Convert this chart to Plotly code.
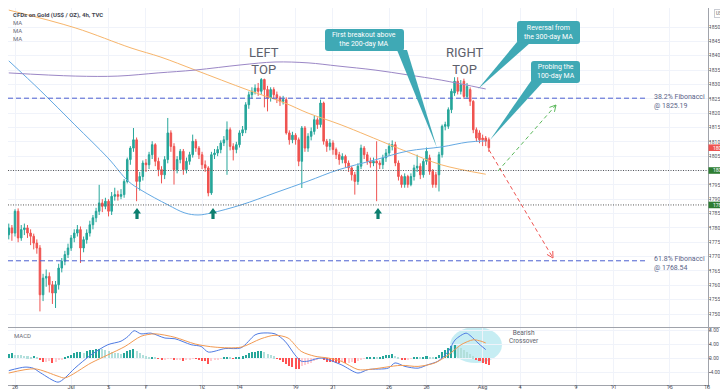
import math
import plotly.graph_objects as go

# ---------------- data ----------------
tick_bars = [2, 20, 32, 44, 62, 74, 92, 104, 122, 134, 152, 164, 182, 194, 212, 224]
tick_labels = ["28", "Jul", "5", "7", "12", "14", "19", "21", "26", "28", "Aug", "4", "9", "11", "16", "18"]

open_ = [1777.6, 1780.0, 1778.2, 1785.8, 1776.5, 1779.4, 1780.0, 1778.2, 1777.1, 1774.7,
         1773.0, 1756.7, 1762.5, 1763.1, 1760.2, 1757.3, 1760.2, 1766.0, 1768.4, 1770.7,
         1773.0, 1776.5, 1778.2, 1779.4, 1773.0, 1775.9, 1778.2, 1781.1, 1783.5, 1785.8,
         1788.7, 1787.5, 1789.3, 1785.8, 1791.0, 1791.6, 1791.0, 1791.6, 1796.2, 1803.8,
         1807.8, 1810.7, 1796.2, 1797.9, 1802.6, 1802.0, 1805.5, 1809.0, 1803.2, 1800.3,
         1798.5, 1803.8, 1813.1, 1808.4, 1800.3, 1803.8, 1806.7, 1800.3, 1803.2, 1805.5,
         1810.2, 1807.8, 1805.5, 1802.0, 1800.9, 1792.2, 1805.5, 1806.1, 1807.3, 1809.6,
         1810.7, 1814.2, 1808.4, 1807.3, 1809.0, 1813.1, 1814.2, 1822.9, 1826.4, 1827.6,
         1828.7, 1827.6, 1831.7, 1828.2, 1825.3, 1828.2, 1826.4, 1825.3, 1824.1, 1824.7,
         1813.1, 1810.7, 1812.3, 1810.7, 1803.2, 1814.8, 1807.8, 1811.9, 1813.6, 1817.7,
         1816.0, 1823.5, 1810.2, 1808.4, 1809.6, 1807.3, 1805.5, 1803.8, 1804.9, 1802.6,
         1800.9, 1798.5, 1796.2, 1801.5, 1807.8, 1805.5, 1803.2, 1802.6, 1803.2, 1802.6,
         1802.0, 1804.4, 1806.1, 1808.4, 1809.0, 1802.6, 1797.9, 1795.1, 1797.9, 1795.1,
         1797.9, 1800.9, 1801.5, 1798.5, 1803.2, 1804.4, 1799.7, 1798.5, 1798.5, 1805.5,
         1815.4, 1815.4, 1821.2, 1827.0, 1831.1, 1827.6, 1831.1, 1825.8, 1828.2, 1824.1,
         1814.2, 1813.1, 1811.3, 1811.3, 1810.7]
high = [1781.5, 1781.0, 1786.5, 1786.8, 1781.0, 1781.5, 1781.0, 1779.5, 1778.0, 1776.0,
        1774.0, 1764.0, 1765.5, 1764.5, 1761.5, 1761.5, 1767.5, 1769.5, 1772.0, 1774.5,
        1777.5, 1779.5, 1781.0, 1780.5, 1777.0, 1779.5, 1782.5, 1784.5, 1787.0, 1795.0,
        1790.0, 1790.5, 1790.0, 1792.5, 1794.0, 1793.0, 1793.5, 1797.0, 1804.5, 1808.5,
        1814.8, 1811.5, 1799.5, 1803.5, 1804.0, 1806.5, 1810.2, 1809.5, 1804.5, 1801.5,
        1805.0, 1818.3, 1814.0, 1809.5, 1805.0, 1807.5, 1807.5, 1804.5, 1806.5, 1812.5,
        1811.0, 1808.5, 1806.5, 1803.5, 1801.5, 1806.5, 1807.5, 1808.5, 1810.5, 1812.0,
        1817.1, 1815.0, 1809.5, 1810.0, 1814.0, 1815.5, 1823.8, 1827.5, 1829.0, 1830.0,
        1830.5, 1832.2, 1832.0, 1829.5, 1829.0, 1829.0, 1827.5, 1826.0, 1826.0, 1825.5,
        1814.0, 1813.5, 1813.0, 1811.5, 1815.5, 1815.5, 1813.0, 1815.0, 1819.0, 1818.5,
        1824.7, 1824.0, 1811.0, 1811.0, 1810.5, 1808.0, 1806.5, 1806.0, 1805.5, 1803.5,
        1801.5, 1799.5, 1802.5, 1809.0, 1808.5, 1806.5, 1804.5, 1804.5, 1810.2, 1803.5,
        1805.5, 1807.5, 1809.5, 1810.5, 1810.0, 1803.5, 1798.5, 1799.0, 1798.5, 1799.0,
        1802.0, 1805.5, 1802.5, 1804.0, 1808.0, 1805.5, 1800.5, 1799.5, 1806.5, 1816.0,
        1817.0, 1822.0, 1828.5, 1832.5, 1832.5, 1831.5, 1832.0, 1830.5, 1829.0, 1824.5,
        1815.0, 1814.0, 1812.5, 1812.0, 1811.5]
low = [1776.0, 1775.5, 1777.0, 1775.0, 1775.5, 1777.5, 1776.5, 1774.0, 1772.5, 1771.0,
       1750.9, 1754.5, 1759.5, 1757.5, 1753.5, 1752.1, 1758.5, 1764.5, 1767.0, 1769.5,
       1772.0, 1775.0, 1777.0, 1767.8, 1771.5, 1774.5, 1777.0, 1779.5, 1782.0, 1784.5,
       1785.5, 1786.5, 1784.0, 1784.5, 1789.5, 1789.5, 1790.0, 1790.5, 1795.5, 1802.0,
       1806.5, 1789.3, 1793.0, 1796.5, 1799.5, 1800.5, 1804.0, 1801.5, 1798.0, 1795.5,
       1797.0, 1802.5, 1806.5, 1795.1, 1799.0, 1802.5, 1798.5, 1799.0, 1802.0, 1804.5,
       1806.5, 1804.0, 1800.5, 1799.5, 1791.0, 1791.5, 1804.0, 1805.0, 1806.0, 1808.5,
       1798.5, 1807.0, 1803.5, 1806.0, 1808.0, 1812.0, 1813.0, 1821.5, 1825.0, 1826.5,
       1826.0, 1826.5, 1822.0, 1820.6, 1824.0, 1825.0, 1823.5, 1822.5, 1823.0, 1812.5,
       1809.0, 1809.5, 1809.0, 1801.5, 1793.9, 1806.5, 1806.5, 1810.5, 1812.5, 1814.5,
       1815.0, 1809.0, 1806.5, 1807.0, 1805.5, 1804.0, 1802.0, 1802.5, 1801.0, 1799.5,
       1796.5, 1791.6, 1795.0, 1800.5, 1804.0, 1802.0, 1801.0, 1801.5, 1789.3, 1800.5,
       1800.5, 1803.0, 1805.0, 1807.0, 1801.5, 1796.5, 1794.0, 1794.0, 1794.0, 1794.5,
       1796.5, 1799.5, 1797.0, 1797.5, 1802.0, 1798.5, 1794.0, 1794.0, 1792.7, 1804.5,
       1814.0, 1814.5, 1820.0, 1826.0, 1826.5, 1826.5, 1825.0, 1825.0, 1822.5, 1813.0,
       1810.0, 1809.5, 1808.5, 1808.5, 1806.5]
close = [1780.0, 1778.2, 1785.8, 1776.5, 1779.4, 1780.0, 1778.2, 1777.1, 1774.7, 1773.0,
         1756.7, 1762.5, 1763.1, 1760.2, 1757.3, 1760.2, 1766.0, 1768.4, 1770.7, 1773.0,
         1776.5, 1778.2, 1779.4, 1773.0, 1775.9, 1778.2, 1781.1, 1783.5, 1785.8, 1788.7,
         1787.5, 1789.3, 1785.8, 1791.0, 1791.6, 1791.0, 1791.6, 1796.2, 1803.8, 1807.8,
         1810.7, 1796.2, 1797.9, 1802.6, 1802.0, 1805.5, 1809.0, 1803.2, 1800.3, 1798.5,
         1803.8, 1813.1, 1808.4, 1800.3, 1803.8, 1806.7, 1800.3, 1803.2, 1805.5, 1810.2,
         1807.8, 1805.5, 1802.0, 1800.9, 1792.2, 1805.5, 1806.1, 1807.3, 1809.6, 1810.7,
         1814.2, 1808.4, 1807.3, 1809.0, 1813.1, 1814.2, 1822.9, 1826.4, 1827.6, 1828.7,
         1827.6, 1831.7, 1828.2, 1825.3, 1828.2, 1826.4, 1825.3, 1824.1, 1824.7, 1813.1,
         1810.7, 1812.3, 1810.7, 1803.2, 1814.8, 1807.8, 1811.9, 1813.6, 1817.7, 1816.0,
         1823.5, 1810.2, 1808.4, 1809.6, 1807.3, 1805.5, 1803.8, 1804.9, 1802.6, 1800.9,
         1798.5, 1796.2, 1801.5, 1807.8, 1805.5, 1803.2, 1802.6, 1803.2, 1802.6, 1802.0,
         1804.4, 1806.1, 1808.4, 1809.0, 1802.6, 1797.9, 1795.1, 1797.9, 1795.1, 1797.9,
         1800.9, 1801.5, 1798.5, 1803.2, 1806.7, 1799.7, 1795.1, 1795.1, 1805.5, 1815.4,
         1816.0, 1821.2, 1827.6, 1831.1, 1827.6, 1829.9, 1825.8, 1829.3, 1824.1, 1814.2,
         1811.3, 1810.7, 1810.7, 1810.2, 1807.94]

ma_orange_x = [0, 21.3, 39.2, 48.8, 59.8, 76.8, 88.6, 96, 106.6, 122.6, 128.1, 138.7, 153]
ma_orange = [1855.9, 1849.7, 1842.7, 1839.5, 1835.0, 1828.0, 1823.5, 1820.0, 1815.9, 1808.8, 1806.4, 1802.0, 1798.7]
ma_blue_x = [0, 10.3, 21.2, 31.8, 38.3, 42.4, 51.1, 56.5, 60.7, 64.9, 74.5, 85.4, 96, 105.6, 117.5, 128.1, 138.7, 147.3, 153]
ma_blue = [1838.2, 1827.7, 1815.9, 1804.4, 1796.3, 1793.2, 1788.0, 1785.2, 1784.5, 1785.2, 1788.0, 1792.2, 1796.3, 1800.2, 1803.7, 1806.8, 1808.2, 1809.9, 1810.3]
ma_purple_x = [0, 21.3, 35, 47.9, 59.8, 74.5, 85.4, 96, 105.6, 117.5, 128.1, 138.7, 153]
ma_purple = [1834.0, 1832.9, 1832.9, 1834.0, 1835.0, 1836.8, 1837.8, 1837.5, 1836.4, 1835.0, 1833.3, 1831.5, 1828.4]

macd_x = [0, 5.2, 7.8, 10.3, 15.8, 18, 21.2, 26.4, 31.8, 36, 38.3, 40.2, 42.4, 45.6, 50.1, 53.3, 58.5, 61.7, 64,
          69.4, 74.5, 79, 80.9, 85.4, 88.6, 91.8, 93.8, 96, 100.2, 106.6, 112, 115.3, 121.7, 123.9, 127.1,
          131.3, 134.5, 137.7, 141, 143.2, 146.7, 148.3, 150.5, 153]
macd_line = [-3.6, -2.6, -2.9, -4.3, -6.9, -5.7, -2.9, 0.9, 3.8, 4.8, 6.2, 7.8, 6.9, 7.1, 5.7, 5.5, 3.8, 3.3, 1.7,
             2.7, 2.9, 6.6, 7.1, 6.9, 4.8, 0.9, -0.9, -0.9, 0.0, -1.9, -4.3, -3.3, -2.9, -1.4, -2.4,
             -2.9, -1.9, -0.9, 1.9, 5.2, 7.1, 6.2, 4.3, 2.4]
signal_x = [0, 8.4, 15.8, 18, 26.4, 31.8, 37.3, 42.4, 46.9, 53.3, 59.8, 66.2, 74.5, 80.9, 85.4, 89.6, 93.8,
            98.2, 102.4, 106.6, 112, 115.3, 125.8, 131.3, 136.7, 141, 145.1, 149, 151.5, 153]
signal_line = [-4.3, -3.1, -5.2, -5.7, -1.4, 0.9, 3.3, 6.2, 6.9, 5.9, 4.0, 3.1, 3.1, 5.5, 6.5, 5.7, 1.9,
               0.5, 0.0, -0.9, -3.3, -3.3, -2.1, -2.4, -1.4, 0.9, 3.8, 5.2, 4.8, 4.3]
hist = [1.2, 1.3, 1.0, 0.9, 0.8, 0.6, 0.5, 0.4, 0.6, 0.2,
        -0.6, -1.2, -1.0, -0.8, -1.3, -1.0, -0.6, -0.3, 0.2, 0.6,
        1.0, 1.3, 1.6, 1.8, 1.5, 2.0, 2.2, 2.4, 2.6, 2.7,
        2.5, 2.3, 2.0, 1.8, 1.5, 1.3, 1.2, 1.5, 1.9, 2.2,
        2.5, 2.0, 1.4, 0.9, 0.5, 0.3, 0.4, 0.2, -0.1, -0.5,
        -0.4, -0.2, -0.1, -0.7, -0.6, -0.4, -0.8, -0.5, -0.3, -0.1,
        -0.2, -0.6, -0.8, -0.9, -1.7, -0.9, -0.5, -0.3, -0.1, 0.1,
        0.3, 0.1, -0.1, 0.1, 0.2, 0.5, 0.9, 1.3, 1.6, 1.8,
        1.9, 2.0, 1.6, 1.2, 0.9, 0.5, -0.1, -0.6, -1.0, -1.8,
        -2.4, -2.7, -3.0, -3.2, -2.3, -2.0, -1.7, -1.4, -0.9, -0.6,
        -0.2, -0.6, -1.0, -1.1, -1.2, -1.3, -1.3, -1.2, -1.4, -1.3,
        -1.0, -1.5, -0.8, -0.3, -0.1, 0.2, 0.3, 0.3, 0.2, 0.3,
        0.5, 0.8, 1.0, 1.1, 0.6, 0.2, -0.3, -0.5, -0.4, -0.2,
        0.1, 0.2, 0.1, 0.4, 0.5, 0.3, 0.1, 0.2, 0.8, 1.6,
        2.3, 2.9, 3.4, 3.7, 3.2, 2.8, 2.2, 1.6, 1.1, 0.5,
        -0.4, -0.9, -1.3, -1.6, -2.0]

fib_levels = [1825.19, 1768.54]
fib_names = ["38.2% Fibonacci", "61.8% Fibonacci"]
support_levels = [1800.00, 1788.00]
last_price = close[-1]
price_ticks = list(range(1750, 1851, 5))
macd_ticks = [-4, 0, 4, 8]

# ---------------- geometry helpers (pixel -> paper) ----------------
PW, PH = 700.0, 377.0
Y_TOP, Y_BOT = 1856.62, 1745.47
MAIN_H = 319.0
def px(x):
    return x / PW
def py(y):
    return 1 - y / PH
def price_to_px(v):
    return (Y_TOP - v) / (Y_TOP - Y_BOT) * MAIN_H

fig = go.Figure()

fig.add_trace(go.Candlestick(
    x=list(range(len(close))), open=open_, high=high, low=low, close=close,
    increasing=dict(line=dict(color="#26a69a", width=1), fillcolor="#26a69a"),
    decreasing=dict(line=dict(color="#ef5350", width=1), fillcolor="#ef5350"),
    whiskerwidth=0, showlegend=False, hoverinfo="skip", xaxis="x", yaxis="y"))

for xs, ys, col in [(ma_orange_x, ma_orange, "#f7b56b"),
                    (ma_blue_x, ma_blue, "#64a9e3"),
                    (ma_purple_x, ma_purple, "#9b87c6")]:
    fig.add_trace(go.Scatter(x=xs, y=ys, mode="lines", showlegend=False, hoverinfo="skip",
                             line=dict(color=col, width=1, shape="spline", smoothing=1.0),
                             xaxis="x", yaxis="y"))

# histogram colours (TradingView rule)
hcol = []
for i, v in enumerate(hist):
    prev = hist[i - 1] if i > 0 else v
    if v >= 0:
        hcol.append("#26a69a" if v >= prev else "#b2dfdb")
    else:
        hcol.append("#ff5252" if v <= prev else "#ffcdd2")
fig.add_trace(go.Bar(x=list(range(len(hist))), y=hist, marker_color=hcol, marker_line_width=0,
                     width=0.65, showlegend=False, hoverinfo="skip", xaxis="x", yaxis="y2"))
fig.add_trace(go.Scatter(x=macd_x, y=macd_line, mode="lines", showlegend=False, hoverinfo="skip",
                         line=dict(color="#4f7be3", width=1, shape="spline", smoothing=0.8),
                         xaxis="x", yaxis="y2"))
fig.add_trace(go.Scatter(x=signal_x, y=signal_line, mode="lines", showlegend=False, hoverinfo="skip",
                         line=dict(color="#f29a52", width=1, shape="spline", smoothing=0.8),
                         xaxis="x", yaxis="y2"))

shapes = []
annotations = []

# price levels
for lvl in fib_levels:
    shapes.append(dict(type="line", xref="paper", yref="y", x0=0, x1=px(640), y0=lvl, y1=lvl,
                       line=dict(color="#4a5fd0", width=1, dash="5px,3px")))
for lvl, name in zip(fib_levels, fib_names):
    annotations.append(dict(xref="paper", yref="y", x=px(644), y=lvl - 1.0, xanchor="left",
                            yanchor="middle", align="left", showarrow=False,
                            text=f"{name}<br>@ {lvl:.2f}",
                            font=dict(size=7, color="#5a6488", family="Roboto")))
for lvl in support_levels:
    shapes.append(dict(type="line", xref="paper", yref="y", x0=0, x1=1, y0=lvl, y1=lvl,
                       line=dict(color="#5a5a5a", width=1, dash="1px,1.5px")))

# separator between panes
shapes.append(dict(type="line", xref="paper", yref="paper", x0=0, x1=728 / PW, y0=py(319.5), y1=py(319.5),
                   line=dict(color="#a0a3ab", width=1)))

# up arrows (support touches)
for ax_px in [129, 205, 370]:
    pts = [(ax_px, 200), (ax_px + 4, 205.5), (ax_px + 1.6, 205.5), (ax_px + 1.6, 211),
           (ax_px - 1.6, 211), (ax_px - 1.6, 205.5), (ax_px - 4, 205.5)]
    path = "M " + " L ".join(f"{px(a):.5f},{py(b):.5f}" for a, b in pts) + " Z"
    shapes.append(dict(type="path", xref="paper", yref="paper", path=path,
                       fillcolor="#0d7f6f", line=dict(width=0)))

# projection arrows
def proj(x0, y0, x1, y1, col):
    shapes.append(dict(type="line", xref="paper", yref="paper", x0=px(x0), y0=py(y0), x1=px(x1), y1=py(y1),
                       line=dict(color=col, width=1, dash="4px,3px")))
    dx, dy = x1 - x0, y1 - y0
    L = math.hypot(dx, dy)
    ux, uy = dx / L, dy / L
    for ang in (0.5, -0.5):
        c, s = math.cos(ang), math.sin(ang)
        bx = -(ux * c - uy * s) * 7
        by = -(ux * s + uy * c) * 7
        shapes.append(dict(type="line", xref="paper", yref="paper", x0=px(x1), y0=py(y1),
                           x1=px(x1 + bx), y1=py(y1 + by), line=dict(color=col, width=1)))
proj(481, 142, 545, 250, "#ef5350")
proj(490, 163, 548, 97, "#5cb85c")

# callouts
CALLOUT = "#3fa9b5"
def rrect(x0, y0, x1, y1, r=3):
    P = lambda a, b: f"{px(a):.5f},{py(b):.5f}"
    return (f"M {P(x0 + r, y0)} L {P(x1 - r, y0)} Q {P(x1, y0)} {P(x1, y0 + r)} "
            f"L {P(x1, y1 - r)} Q {P(x1, y1)} {P(x1 - r, y1)} L {P(x0 + r, y1)} "
            f"Q {P(x0, y1)} {P(x0, y1 - r)} L {P(x0, y0 + r)} Q {P(x0, y0)} {P(x0 + r, y0)} Z")
def callout(box, base, tip, text):
    x0, y0, x1, y1 = box
    shapes.append(dict(type="path", xref="paper", yref="paper", path=rrect(x0, y0, x1, y1),
                       fillcolor=CALLOUT, line=dict(width=0)))
    pts = [base[0], tip, base[1]]
    path = "M " + " L ".join(f"{px(a):.5f},{py(b):.5f}" for a, b in pts) + " Z"
    shapes.append(dict(type="path", xref="paper", yref="paper", path=path,
                       fillcolor=CALLOUT, line=dict(width=0)))
    annotations.append(dict(xref="paper", yref="paper", x=px((x0 + x1) / 2), y=py((y0 + y1) / 2),
                            text=text, showarrow=False, xanchor="center", yanchor="middle",
                            font=dict(size=7, color="white", family="Roboto")))
callout((317, 21, 396, 43), [(389, 42), (399, 42)], (429, 140), "First breakout above<br>the 200-day MA")
callout((509, 13, 572, 36), [(509, 34), (522, 35)], (470, 81), "Reversal from<br>the 300-day MA")
callout((523, 53, 572, 75), [(523, 73), (535, 74)], (482, 132), "Probing the<br>100-day MA")

# bearish crossover blob
shapes.append(dict(type="circle", xref="paper", yref="paper", x0=px(442), x1=px(494), y0=py(319), y1=py(355),
                   fillcolor="rgba(128,214,228,0.45)", line=dict(width=0), layer="below"))
annotations.append(dict(xref="paper", yref="paper", x=px(516), y=py(338.5), xanchor="center",
                        text="Bearish<br>Crossover", showarrow=False,
                        font=dict(size=6.5, color="#5d606b", family="Roboto")))

# pattern labels
for cx, word1 in [(256, "LEFT"), (456, "RIGHT")]:
    annotations.append(dict(xref="paper", yref="paper", x=px(cx), y=py(53.5), text=f"{word1}<br>TOP",
                            showarrow=False, xanchor="center", yanchor="middle",
                            font=dict(size=13, color="#5d606b", family="Roboto")))

# header texts
annotations.append(dict(xref="paper", yref="paper", x=px(3), y=py(7), xanchor="left", yanchor="middle",
                        text="<b>CFDs on Gold (US$ / OZ), 4h, TVC</b>", showarrow=False,
                        font=dict(size=6, color="#434651", family="Roboto")))
for yy in (15, 22.5, 30):
    annotations.append(dict(xref="paper", yref="paper", x=px(3), y=py(yy), xanchor="left", yanchor="middle",
                            text="MA", showarrow=False, font=dict(size=6, color="#6a6d78", family="Roboto")))
annotations.append(dict(xref="paper", yref="paper", x=px(4), y=py(327), xanchor="left", yanchor="middle",
                        text="MACD", showarrow=False, font=dict(size=6, color="#6a6d78", family="Roboto")))
annotations.append(dict(xref="paper", yref="paper", x=px(713), y=py(6), xanchor="center", yanchor="middle",
                        text="USD", showarrow=False, bordercolor="#c9ccd3", borderwidth=1, borderpad=1,
                        font=dict(size=4.5, color="#555", family="Roboto")))

# price boxes on the axis (paper-referenced rect + text)
for val, col in [(last_price, "#ef5350"), (support_levels[0], "#2e7d32"), (support_levels[1], "#2e7d32")]:
    yc = price_to_px(val)
    shapes.append(dict(type="rect", xref="paper", yref="paper", x0=px(700.5), x1=px(727),
                       y0=py(yc + 3.3), y1=py(yc - 3.3), fillcolor=col, line=dict(width=0), layer="above"))
    annotations.append(dict(xref="paper", yref="paper", x=px(713.8), y=py(yc), xanchor="center",
                            yanchor="middle", text=f"{val:.2f}", showarrow=False,
                            font=dict(size=5, color="white", family="Roboto")))

axis_font = dict(size=5, color="#50535e", family="Roboto")
price_text = ["" if v == 1800 else f"{v:.2f}" for v in price_ticks]
fig.update_layout(
    width=728, height=391, margin=dict(l=0, r=28, t=0, b=14),
    paper_bgcolor="white", plot_bgcolor="white", showlegend=False, bargap=0,
    xaxis=dict(domain=[0, 1], range=[-0.25, 224.3], anchor="y2", tickmode="array",
               tickvals=tick_bars, ticktext=tick_labels, showgrid=True, gridcolor="#f0f3fa",
               gridwidth=1, zeroline=False, showline=True, linecolor="#a0a3ab", ticks="outside",
               ticklen=2, tickcolor="#a0a3ab", tickfont=dict(size=5.5, color="#50535e", family="Roboto"),
               ticklabelstandoff=-6, rangeslider=dict(visible=False)),
    yaxis=dict(domain=[1 - MAIN_H / PH, 1], range=[Y_BOT, Y_TOP], side="right", anchor="x",
               tickmode="array", tickvals=price_ticks, ticktext=price_text,
               showgrid=True, gridcolor="#f0f3fa", zeroline=False, showline=True, linecolor="#a0a3ab",
               ticks="outside", ticklen=2, tickcolor="#a0a3ab", tickfont=axis_font, ticklabelstandoff=-3),
    yaxis2=dict(domain=[0, 1 - 320 / PH], range=[-7.71, 8.57], side="right", anchor="x",
                tickmode="array", tickvals=macd_ticks, ticktext=[f"{v:.2f}" for v in macd_ticks],
                showgrid=True, gridcolor="#f0f3fa", zeroline=False, showline=True, linecolor="#a0a3ab",
                ticks="outside", ticklen=2, tickcolor="#a0a3ab", tickfont=axis_font, ticklabelstandoff=-3),
    shapes=shapes, annotations=annotations,
)

fig.write_html("out.html")
